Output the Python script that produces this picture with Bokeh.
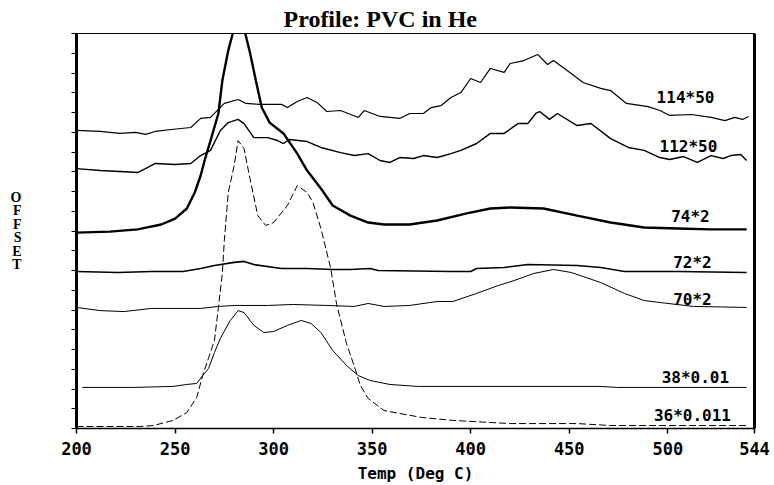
from bokeh.plotting import figure
from bokeh.models import Range1d, FixedTicker, LinearAxis, Title, ColumnDataSource
from bokeh.core.properties import value
from bokeh.embed import file_html
from bokeh.resources import INLINE

# ---- data (Temp in deg C, offset in arbitrary units) ----
t_114 = [200, 212, 222, 230, 235, 240, 248, 258, 263, 268, 275, 282, 286, 293, 304, 307, 312, 317, 322, 327,
         334, 343, 346, 354, 364, 369, 376, 380, 385, 390, 395, 400, 405, 410, 417, 420, 427, 434, 439, 442,
         451, 457, 466, 471, 479, 490, 496, 501, 512, 522, 529, 534, 538, 541]
y_114 = [15.09, 15.04, 14.94, 14.99, 14.89, 15.04, 15.14, 15.24, 15.70, 15.75, 16.46, 16.66, 16.46, 16.41, 16.41, 16.25, 16.56, 16.76, 16.51, 16.05,
         16.10, 15.75, 16.10, 15.80, 15.70, 15.95, 15.95, 16.25, 16.35, 16.76, 17.01, 17.72, 17.52, 18.23, 18.03, 18.48, 18.63, 18.94, 18.43, 18.63,
         17.97, 17.52, 17.22, 17.11, 16.46, 16.30, 16.10, 15.85, 15.90, 15.75, 15.59, 15.75, 15.65, 15.80]

t_112 = [200, 212, 222, 231, 235, 240, 250, 258, 263, 268, 273, 277, 282, 285, 290, 297, 302, 305, 308, 317,
         324, 334, 341, 348, 354, 359, 364, 371, 376, 383, 390, 395, 403, 410, 417, 424, 429, 433, 435, 440,
         444, 454, 461, 471, 480, 488, 496, 501, 508, 515, 522, 528, 532, 537, 540]
y_112 = [13.16, 13.06, 13.01, 12.96, 13.16, 13.42, 13.37, 13.42, 13.82, 14.08, 15.09, 15.49, 15.65, 15.44, 14.73, 14.73, 14.58, 14.43, 14.63, 14.53,
         14.23, 13.97, 13.82, 13.92, 13.57, 13.47, 13.72, 13.67, 13.82, 13.72, 13.92, 14.08, 14.43, 14.94, 14.94, 15.44, 15.44, 15.95, 16.05, 15.65,
         15.95, 15.34, 15.44, 14.68, 14.23, 14.08, 13.72, 13.62, 13.77, 13.47, 13.82, 13.67, 13.82, 13.87, 13.57]

t_74 = [200, 217, 231, 243, 250, 256, 260, 263, 265, 268, 272, 274, 277, 281, 284, 288, 291, 294, 298, 305,
        312, 317, 324, 330, 339, 348, 356, 369, 383, 398, 410, 420, 437, 454, 471, 488, 505, 522, 540]
y_74 = [9.92, 9.97, 10.08, 10.33, 10.63, 11.14, 11.95, 12.81, 13.57, 14.58, 15.95, 17.62, 19.14, 20.66, 20.66, 19.04, 17.62, 16.25, 15.49, 14.94,
        13.92, 13.06, 12.15, 11.29, 10.78, 10.43, 10.33, 10.33, 10.53, 10.89, 11.14, 11.19, 11.14, 10.78, 10.43, 10.18, 10.13, 10.08, 10.08]

t_72 = [200, 221, 238, 254, 263, 270, 280, 285, 290, 304, 317, 330, 339, 349, 353, 390, 400, 403, 417, 429,
        454, 466, 478, 505, 540]
y_72 = [7.95, 7.90, 7.95, 7.95, 8.10, 8.25, 8.41, 8.46, 8.30, 8.10, 8.10, 8.05, 8.05, 8.10, 8.00, 7.95, 7.95, 8.10, 8.15, 8.30,
        8.25, 8.15, 7.95, 7.95, 7.90]

t_70 = [200, 212, 224, 238, 263, 272, 280, 297, 310, 327, 341, 348, 356, 369, 383, 391, 403, 414, 422, 432,
        442, 451, 466, 478, 488, 496, 513, 540]
y_70 = [6.13, 5.97, 5.92, 6.08, 6.08, 6.18, 6.23, 6.23, 6.28, 6.23, 6.18, 6.33, 6.18, 6.23, 6.43, 6.43, 6.84, 7.24, 7.49, 7.85,
        8.05, 7.90, 7.39, 6.84, 6.48, 6.38, 6.18, 6.13]

t_38 = [203, 229, 249, 256, 261, 264, 267, 270, 273, 278, 282, 285, 290, 295, 300, 307, 314, 319, 324, 330,
        337, 343, 349, 359, 373, 420, 466, 474, 540]
y_38 = [2.08, 2.08, 2.13, 2.23, 2.28, 2.68, 3.04, 3.85, 4.56, 5.47, 5.97, 5.87, 5.22, 4.86, 4.91, 5.22, 5.47, 5.32, 4.86, 3.95,
        3.19, 2.68, 2.43, 2.23, 2.13, 2.13, 2.13, 2.08, 2.08]

t_36 = [200, 232, 239, 249, 256, 261, 264, 270, 272, 274, 275, 277, 280, 282, 285, 288, 292, 296, 300, 307,
        312, 317, 320, 324, 329, 332, 337, 341, 344, 348, 356, 364, 375, 391, 420, 454, 471, 540]
y_36 = [0.10, 0.10, 0.15, 0.41, 0.81, 1.57, 2.68, 4.46, 6.13, 7.85, 9.52, 11.95, 13.32, 14.58, 14.18, 12.66, 10.78, 10.28, 10.43, 11.29,
        12.30, 11.95, 11.44, 10.13, 8.10, 6.28, 4.30, 3.14, 2.18, 1.52, 0.91, 0.76, 0.56, 0.41, 0.25, 0.25, 0.15, 0.15]

label_text = ["114*50", "112*50", "74*2", "72*2", "70*2", "38*0.01", "36*0.011"]
label_t = [509, 510.5, 511.5, 512.5, 512.5, 514, 512.5]
label_y = [16.76, 14.28, 10.73, 8.41, 6.53, 2.58, 0.66]

x_ticks = [200, 250, 300, 350, 400, 450, 500, 544]
y_ticks = list(range(0, 21))

MONO = "DejaVu Sans Mono"

p = figure(width=774, height=485, output_backend="svg", toolbar_location=None,
           x_range=Range1d(200, 544), y_range=Range1d(0, 20),
           min_border_left=76, min_border_right=20, min_border_top=33, min_border_bottom=57,
           title=None)
p.background_fill_color = "white"
p.border_fill_color = "white"
p.outline_line_color = "black"
p.outline_line_width = 1
p.xgrid.visible = False
p.ygrid.visible = False

t = Title(text="Profile: PVC in He", align="left", offset=207, standoff=4,
          text_font="Liberation Serif", text_font_size="24px", text_font_style="bold",
          text_color="black")
p.add_layout(t, "above")

xa = p.xaxis[0]
xa.ticker = FixedTicker(ticks=x_ticks)
xa.minor_tick_line_color = None
xa.major_tick_out = 5
xa.major_tick_in = 0
xa.axis_line_width = 1.5
xa.major_tick_line_width = 1.5
xa.major_label_standoff = 8
xa.major_label_text_font = MONO
xa.major_label_text_font_style = "bold"
xa.major_label_text_font_size = "17px"
xa.major_label_text_color = "black"
xa.axis_label = "Temp (Deg C)"
xa.axis_label_standoff = 6
xa.axis_label_text_font = MONO
xa.axis_label_text_font_style = "bold"
xa.axis_label_text_font_size = "16px"
xa.axis_label_text_color = "black"

ya = p.yaxis[0]
ya.ticker = FixedTicker(ticks=y_ticks)
ya.minor_tick_line_color = None
ya.major_tick_out = 5
ya.major_tick_in = 0
ya.axis_line_width = 3
ya.major_label_text_font_size = "1px"
ya.major_label_text_color = None
ya.major_label_standoff = 0
ya.axis_label = "O\nF\nF\nS\nE\nT"
ya.axis_label_orientation = "horizontal"
ya.axis_label_standoff = 50
ya.axis_label_text_font = "Liberation Serif"
ya.axis_label_text_font_style = "bold"
ya.axis_label_text_font_size = "14px"
ya.axis_label_text_line_height = 0.9
ya.axis_label_text_color = "black"

ra = LinearAxis(ticker=FixedTicker(ticks=[]), major_label_text_font_size="1px",
                major_label_text_color=None,
                major_tick_line_color=None, minor_tick_line_color=None, axis_line_width=3)
p.add_layout(ra, "right")

p.line(t_114, y_114, line_color="black", line_width=1.2)
p.line(t_112, y_112, line_color="black", line_width=1.4)
p.line(t_74, y_74, line_color="black", line_width=2.4)
p.line(t_72, y_72, line_color="black", line_width=1.6)
p.line(t_70, y_70, line_color="black", line_width=1.0)
p.line(t_38, y_38, line_color="black", line_width=1.0)
p.line(t_36, y_36, line_color="black", line_width=1.0, line_dash="7 3")

src = ColumnDataSource(dict(x=label_t, y=label_y, text=label_text))
p.text(x="x", y="y", text="text", source=src, text_font=value(MONO), text_font_style="bold",
       text_font_size="16px", text_align="center", text_baseline="middle", text_color="black")

open("out.html", "w").write(file_html(p, INLINE))
